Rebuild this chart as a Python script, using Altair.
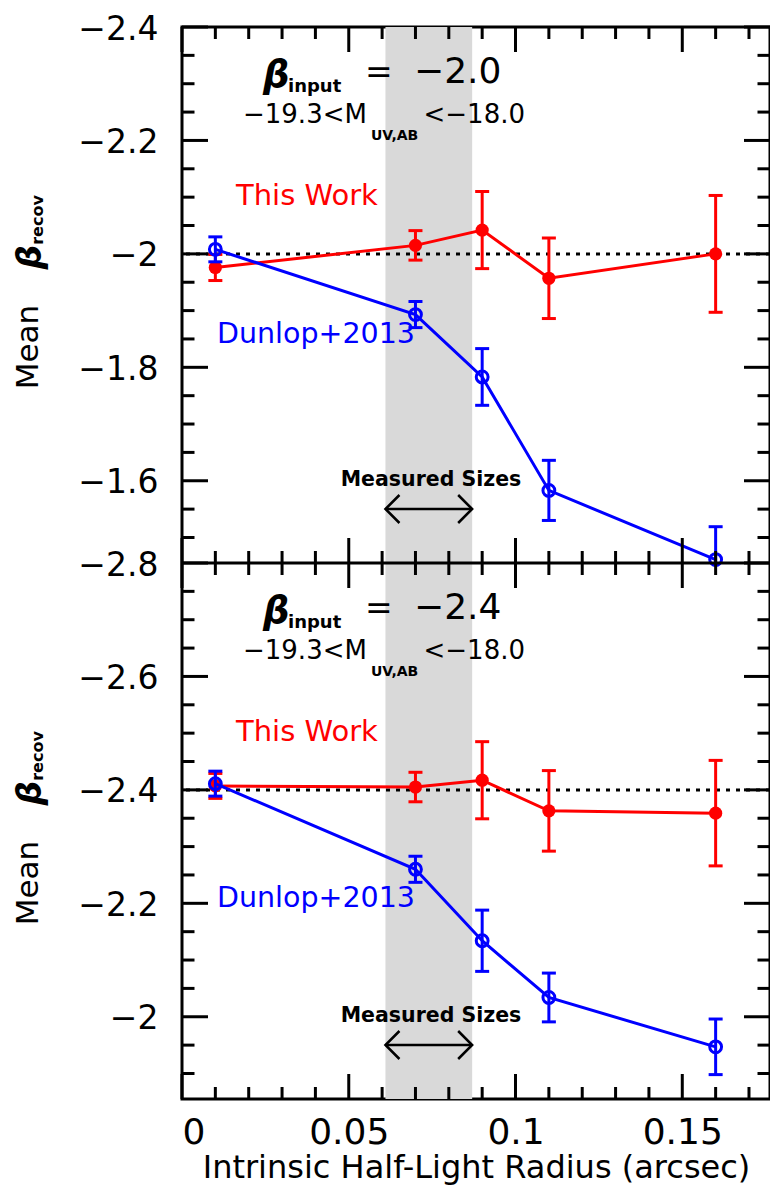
import altair as alt
import numpy as np
import pandas as pd

# ---------------- data ----------------
radius = [0.01, 0.07, 0.09, 0.11, 0.16]

# panel 1 : beta_input = -2.0
this_work_1 = [-1.976, -2.015, -2.042, -1.957, -2.000]
this_work_1_err = [0.023, 0.026, 0.068, 0.071, 0.103]
dunlop_1 = [-2.008, -1.893, -1.783, -1.583, -1.461]
dunlop_1_err = [0.022, 0.023, 0.050, 0.053, 0.058]

# panel 2 : beta_input = -2.4
this_work_2 = [-2.407, -2.405, -2.417, -2.363, -2.359]
this_work_2_err = [0.022, 0.026, 0.068, 0.071, 0.093]
dunlop_2 = [-2.411, -2.260, -2.134, -2.034, -1.947]
dunlop_2_err = [0.022, 0.023, 0.054, 0.043, 0.049]

beta_inputs = [-2.0, -2.4]
beta_input_labels = ["\u22122.0", "\u22122.4"]
y_domains = [[-2.4, -1.455], [-2.8, -1.855]]
y_label_values = [[-2.4, -2.2, -2.0, -1.8, -1.6], [-2.8, -2.6, -2.4, -2.2, -2.0]]
x_domain = [0, 0.1763]
x_label_values = [0, 0.05, 0.1, 0.15]
measured_sizes = [0.061, 0.087]

x_title = "Intrinsic Half-Light Radius (arcsec)"
mag_left = "\u221219.3<M"
mag_sub = "UV,AB"
mag_right = "<\u221218.0"

series = [
    (this_work_1, this_work_1_err, dunlop_1, dunlop_1_err),
    (this_work_2, this_work_2_err, dunlop_2, dunlop_2_err),
]

FONT = "DejaVu Sans"
RED = "#ff0000"
BLUE = "#0000ff"
W = 588          # plot width
PH = 536         # height of one panel
H = 2 * PH       # whole plot height

xs = alt.Scale(domain=x_domain, nice=False, zero=False)
xaxis = alt.Axis(values=x_label_values, format="~g", ticks=False, tickSize=0,
                 domain=False, grid=False, labelFont=FONT, labelFontSize=36,
                 labelColor="black", labelPadding=16, title=x_title,
                 titleFont=FONT, titleFontSize=32, titleFontWeight="normal",
                 titleColor="black", titlePadding=2)


def X(f):
    return alt.X(f, type="quantitative", scale=xs, axis=xaxis)


def txt(s, x, y, size, color="black", weight="normal", style="normal",
        align="left", baseline="alphabetic", angle=None):
    kw = dict(text=s, font=FONT, fontSize=size, color=color, fontWeight=weight,
              fontStyle=style, align=align, baseline=baseline)
    if angle is not None:
        kw["angle"] = angle
    return alt.Chart(pd.DataFrame({"k": [0]})).mark_text(**kw).encode(
        x=alt.value(x), y=alt.value(y))


def panel(i):
    tw, twe, du, due = series[i]
    top = i * PH  # pixel offset of this panel inside the plot
    dom = y_domains[i]
    ys = alt.Scale(domain=dom, range=[top, top + PH], nice=False, zero=False, clamp=True)
    yaxis = alt.Axis(values=y_label_values[i], format=".1~f", ticks=False, tickSize=0,
                     domain=False, grid=False, labelFont=FONT, labelFontSize=33,
                     labelColor="black", labelPadding=24, labelOffset=2,
                     title=None, orient="left")

    def Y(f):
        return alt.Y(f, type="quantitative", scale=ys, axis=yaxis)

    def oy(v):
        return top + v

    df = pd.DataFrame({
        "r": radius,
        "tw": tw,
        "tw_lo": np.array(tw) - np.array(twe),
        "tw_hi": np.array(tw) + np.array(twe),
        "du": du,
        "du_lo": np.array(du) - np.array(due),
        "du_hi": np.array(du) + np.array(due),
    })
    base = alt.Chart(df)
    layers = []
    if i == 0:
        layers.append(alt.Chart(pd.DataFrame({"a": [measured_sizes[0]], "b": [measured_sizes[1]]}))
                      .mark_rect(color="#d9d9d9")
                      .encode(x=X("a"), x2="b", y=alt.value(0), y2=alt.value(H)))
    layers.append(alt.Chart(pd.DataFrame({"b": [beta_inputs[i]]})).mark_rule(
        color="black", strokeWidth=3, strokeDash=[4, 6]).encode(y=Y("b")))

    cap = "M-1,0L1,0"
    for col, color, filled in (("tw", RED, True), ("du", BLUE, False)):
        layers.append(base.mark_rule(color=color, strokeWidth=3).encode(
            x=X("r"), y=Y(col + "_lo"), y2=col + "_hi"))
        for end in ("_lo", "_hi"):
            layers.append(base.transform_filter(
                (alt.datum[col + end] >= dom[0]) & (alt.datum[col + end] <= dom[1])
            ).mark_point(shape=cap, size=196, filled=False, strokeWidth=3,
                         color=color, opacity=1).encode(x=X("r"), y=Y(col + end)))
        layers.append(base.mark_line(color=color, strokeWidth=3).encode(
            x=X("r"), y=Y(col)))
        if filled:
            layers.append(base.mark_point(shape="circle", size=175, filled=True, color=color,
                                          opacity=1).encode(x=X("r"), y=Y(col)))
        else:
            layers.append(base.mark_point(shape="circle", size=140, filled=False, strokeWidth=3,
                                          color=color, opacity=1).encode(x=X("r"), y=Y(col)))

    # measured-size arrow
    ay = oy(482)
    ms = pd.DataFrame({"a": [measured_sizes[0]], "b": [measured_sizes[1]]})
    layers.append(alt.Chart(ms).mark_rule(color="black", strokeWidth=2.5).encode(
        x=X("a"), x2="b", y=alt.value(ay)))
    layers.append(alt.Chart(ms).mark_point(shape="M1,-1L0,0L1,1", size=784, filled=False,
                                           strokeWidth=2.5, color="black", opacity=1).encode(
        x=X("a"), y=alt.value(ay)))
    layers.append(alt.Chart(ms).mark_point(shape="M-1,-1L0,0L-1,1", size=784, filled=False,
                                           strokeWidth=2.5, color="black", opacity=1).encode(
        x=X("b"), y=alt.value(ay)))

    # annotations
    layers += [
        txt("\u03b2", 81, oy(60), 37, weight="bold", style="italic"),
        txt("input", 106, oy(65), 18, weight="bold"),
        txt("=", 183, oy(56), 33),
        txt(beta_input_labels[i], 232, oy(56), 36),
        txt(mag_left, 61, oy(96), 26),
        txt(mag_sub, 189, oy(113), 14, weight="bold"),
        txt(mag_right, 343, oy(96), 26, align="right"),
        txt("This Work", 54, oy(178), 29, color=RED),
        txt("Dunlop+2013", 35, oy(344 if i else 316), 28.5, color=BLUE),
        txt("Measured Sizes", 249, oy(459), 20.5, weight="bold", align="center"),
        # y-axis title
        txt("Mean", -153, oy(320), 31, align="center", baseline="middle", angle=270),
        txt("\u03b2", -151, oy(230), 34, weight="bold", style="italic", align="center",
            baseline="middle", angle=270),
        txt("recov", -144, oy(193), 16, weight="bold", align="center", baseline="middle",
            angle=270),
    ]

    # inward ticks on all four sides of the panel
    yv = np.round(np.arange(dom[0], dom[1] + 1e-9, 0.05), 2)
    ymaj = [v for v in yv if abs(v * 5 - round(v * 5)) < 1e-6]
    ymin = [v for v in yv if abs(v * 5 - round(v * 5)) >= 1e-6]
    xv = np.round(np.arange(0, x_domain[1] + 1e-9, 0.01), 2)
    xmaj = [v for v in xv if abs(v * 20 - round(v * 20)) < 1e-6]
    xmin = [v for v in xv if abs(v * 20 - round(v * 20)) >= 1e-6]
    tick = dict(color="black", strokeWidth=3)
    for vals, ln in ((ymaj, 26), (ymin, 12.5)):
        d = alt.Chart(pd.DataFrame({"v": vals}))
        layers.append(d.mark_rule(**tick).encode(y=Y("v"), x=alt.value(0), x2=alt.value(ln)))
        layers.append(d.mark_rule(**tick).encode(y=Y("v"), x=alt.value(W - ln), x2=alt.value(W)))
    for vals, ln in ((xmaj, 25), (xmin, 12)):
        d = alt.Chart(pd.DataFrame({"v": vals}))
        layers.append(d.mark_rule(**tick).encode(x=X("v"), y=alt.value(top),
                                                 y2=alt.value(top + ln)))
        layers.append(d.mark_rule(**tick).encode(x=X("v"), y=alt.value(top + PH - ln),
                                                 y2=alt.value(top + PH)))
    # panel separator (bottom edge of the upper panel)
    if i == 0:
        layers.append(alt.Chart(pd.DataFrame({"v": [dom[1]]})).mark_rule(**tick).encode(y=Y("v")))

    return alt.layer(*layers)


chart = alt.layer(panel(0), panel(1)).resolve_scale(
    y="independent"
).resolve_axis(y="independent").properties(
    width=W, height=H,
    autosize=alt.AutoSizeParams(type="none"),
    padding={"left": 174, "top": 19, "right": 0, "bottom": 87},
).configure_view(stroke="black", strokeWidth=3)

chart.save("out.html", embed_options={"renderer": "svg", "actions": False})
